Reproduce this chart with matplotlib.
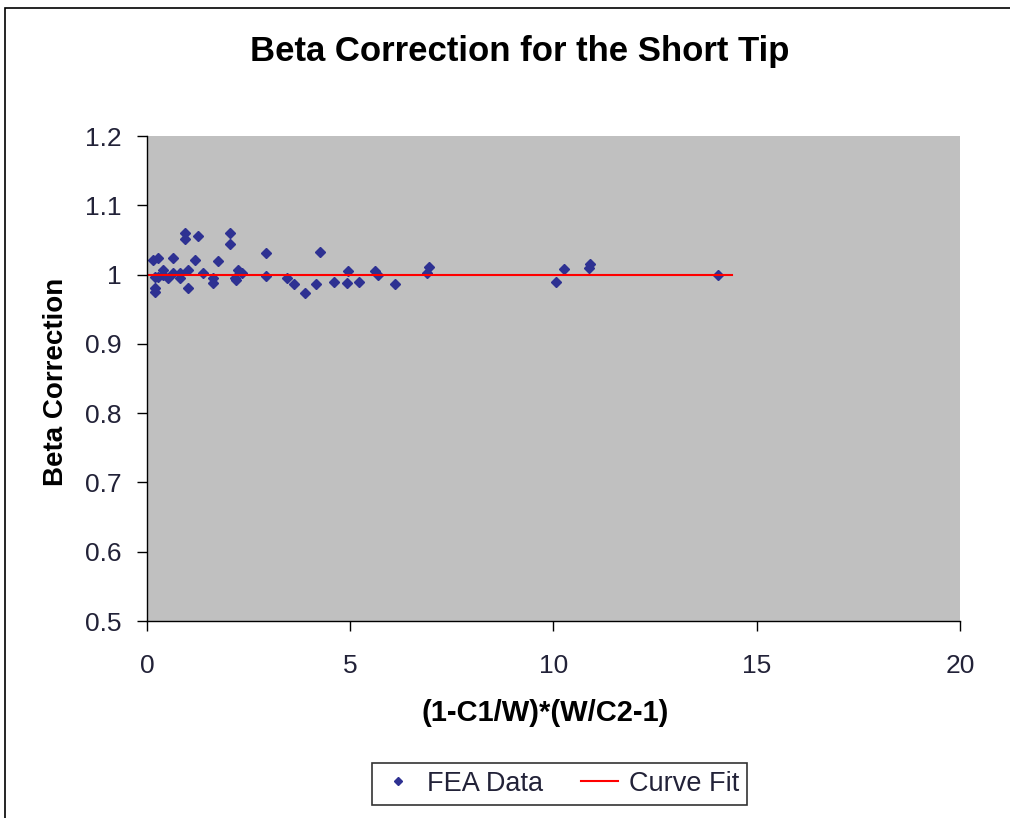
import numpy as np
import matplotlib.pyplot as plt
from matplotlib.patches import Rectangle

plt.rcParams['font.family'] = ['Liberation Sans', 'DejaVu Sans']

# FEA data
fea_x = [0.155, 0.28, 0.20, 0.20, 0.20, 0.28, 0.39, 0.40, 0.52, 0.65, 0.65, 0.81, 0.81,
         0.93, 0.93, 1.02, 1.00, 1.18, 1.26, 1.39, 1.62, 1.62, 1.75, 2.04, 2.04, 2.16,
         2.20, 2.25, 2.33, 2.93, 2.93, 3.45, 3.62, 3.89, 4.17, 4.26, 4.61, 4.91, 4.95,
         5.22, 5.61, 5.69, 6.10, 6.88, 6.95, 10.05, 10.27, 10.90, 10.88, 14.05]
fea_y = [1.021, 1.0235, 0.997, 0.980, 0.975, 0.997, 1.0066, 0.999, 0.995, 1.0235, 1.002,
         1.002, 0.995, 1.0596, 1.052, 1.0066, 0.981, 1.021, 1.055, 1.003, 0.995, 0.988,
         1.019, 1.060, 1.044, 0.995, 0.992, 1.0066, 1.003, 1.031, 0.998, 0.995, 0.987,
         0.974, 0.987, 1.032, 0.990, 0.988, 1.005, 0.990, 1.005, 0.999, 0.987, 1.002,
         1.011, 0.990, 1.008, 1.015, 1.009, 1.0]

fit_x = [0.0, 14.4]
fit_y = [1.0, 1.0]

txt_col = '#222238'

fig = plt.figure(figsize=(10.1, 8.18), dpi=100)
ax = fig.add_axes([0.1455, 0.2408, 0.805, 0.5929])
ax.set_facecolor('#C0C0C0')

ax.plot(fea_x, fea_y, linestyle='none', marker='D', ms=5, color='#2E3192',
        label='FEA Data')
ax.plot(fit_x, fit_y, color='#FF0000', lw=1.5, label='Curve Fit')

ax.set_xlim(0, 20)
ax.set_ylim(0.5, 1.2)
ax.set_xticks([0, 5, 10, 15, 20])
ax.set_yticks(np.round(np.arange(0.5, 1.21, 0.1), 1))
ax.set_yticklabels(['0.5', '0.6', '0.7', '0.8', '0.9', '1', '1.1', '1.2'])

for s in ['top', 'right']:
    ax.spines[s].set_visible(False)
for s in ['left', 'bottom']:
    ax.spines[s].set_color('black')
    ax.spines[s].set_linewidth(1.0)
ax.tick_params(direction='out', length=7, width=1, labelsize=19, colors='black',
               labelcolor=txt_col)
ax.tick_params(axis='y', pad=11)
ax.tick_params(axis='x', pad=17)

fig.text(0.515, 0.937, 'Beta Correction for the Short Tip', fontsize=25,
         fontweight='bold', ha='center', va='center')
fig.text(545 / 1010, 1 - 713 / 818, '(1-C1/W)*(W/C2-1)', fontsize=21, fontweight='bold',
         ha='center', va='center')
fig.text(56 / 1010, 1 - 382 / 818, 'Beta Correction', fontsize=20, fontweight='bold',
         rotation=90, ha='center', va='center')

leg = fig.legend(loc='center', bbox_to_anchor=(0.554, 0.042), ncol=2, fontsize=19.5,
                 frameon=True, fancybox=False, edgecolor='black', markerscale=0.75,
                 handlelength=1.35, handletextpad=0.4, columnspacing=1.4, borderpad=0.3,
                 borderaxespad=0.4)
leg.get_frame().set_linewidth(1.2)
for t in leg.get_texts():
    t.set_color(txt_col)

# outer chart border
fig.patches.append(Rectangle((0.005, -0.01), 1.0, 1.0, transform=fig.transFigure,
                             fill=False, edgecolor='black', lw=1.2))

fig.savefig('out.png', dpi=100)
